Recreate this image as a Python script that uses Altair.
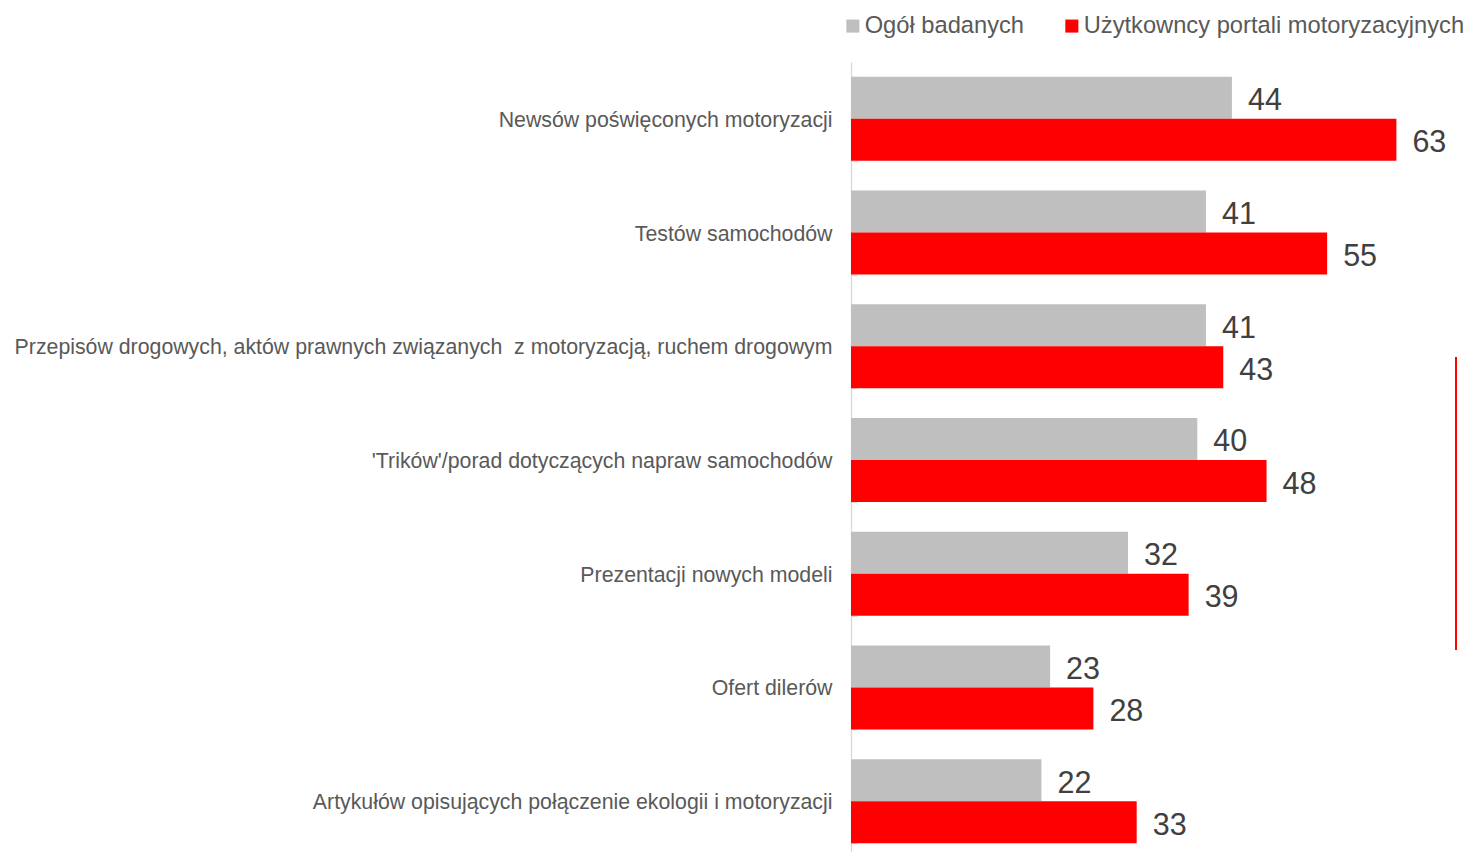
import altair as alt
import pandas as pd

categories = [
    "Newsów poświęconych motoryzacji",
    "Testów samochodów",
    "Przepisów drogowych, aktów prawnych związanych \u00a0z motoryzacją, ruchem drogowym",
    "'Trików'/porad dotyczących napraw samochodów",
    "Prezentacji nowych modeli",
    "Ofert dilerów",
    "Artykułów opisujących połączenie ekologii i motoryzacji",
]
series_names = ["Ogół badanych", "Użytkowncy portali motoryzacyjnych"]
ogol_badanych = [44, 41, 41, 40, 32, 23, 22]
uzytkownicy = [63, 55, 43, 48, 39, 28, 33]
colors = ["#bfbfbf", "#ff0000"]

rows = []
for c, a, b in zip(categories, ogol_badanych, uzytkownicy):
    rows.append({"category": c, "series": series_names[0], "value": a})
    rows.append({"category": c, "series": series_names[1], "value": b})
df = pd.DataFrame(rows)

FONT = "Liberation Sans"
yscale = alt.Scale(paddingInner=0.261, paddingOuter=0.1305)
yoff = alt.YOffset("series:N", sort=series_names,
                   scale=alt.Scale(domain=series_names, paddingInner=0, paddingOuter=0))
xenc = alt.X("value:Q", scale=alt.Scale(domain=[0, 70], nice=False), axis=None)

bars = alt.Chart(df).mark_bar().encode(
    y=alt.Y("category:N", sort=categories, scale=yscale,
            axis=alt.Axis(title=None, orient="left", labelFontSize=21.3, labelColor="#595959",
                          labelFont=FONT, labelPadding=19, labelOffset=2, ticks=False,
                          domainColor="#d9d9d9", domainWidth=1.3, labelLimit=1000)),
    yOffset=yoff,
    x=xenc,
    color=alt.Color("series:N", sort=series_names,
                    scale=alt.Scale(domain=series_names, range=colors),
                    legend=alt.Legend(title=None, orient="none", legendX=-10, legendY=-48,
                                      direction="horizontal", symbolType="square",
                                      symbolSize=170, symbolStrokeWidth=0,
                                      labelFontSize=23.7, labelColor="#595959", labelFont=FONT,
                                      columnPadding=35, labelOffset=0, labelLimit=700)),
)

labels = alt.Chart(df).mark_text(align="left", baseline="middle", dx=16, dy=3.5, fontSize=30.5,
                                 color="#404040", font=FONT).encode(
    y=alt.Y("category:N", sort=categories, scale=yscale,
            axis=alt.Axis(title=None, orient="left", labels=False, domain=False, ticks=True,
                          tickSize=6, tickColor="#d9d9d9", tickWidth=1.3,
                          tickBand="extent", offset=-6)),
    yOffset=yoff,
    x=xenc,
    text=alt.Text("value:Q"),
)

deco = alt.Chart(pd.DataFrame({"a": [0]})).mark_rule(color="#ff0000", strokeWidth=2).encode(
    x=alt.value(605), y=alt.value(295), y2=alt.value(588)
)

chart = alt.layer(bars, labels, deco).resolve_axis(y="independent").properties(
    width=606, height=796,
    autosize=alt.AutoSizeParams(type="none"),
    padding={"left": 843, "top": 54, "right": 8, "bottom": 0},
).configure_view(stroke=None)

chart.save("out.html", embed_options={"renderer": "svg", "actions": False})
